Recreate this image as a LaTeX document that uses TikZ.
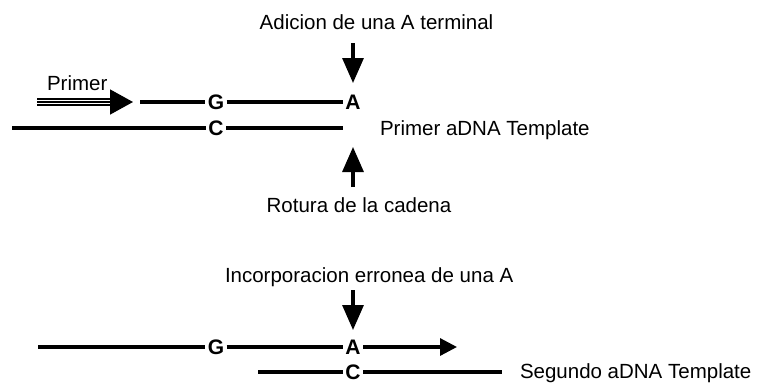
\documentclass[tikz,border=0pt]{standalone}
\usepackage{fontspec}
\setmainfont{Liberation Sans}
\usetikzlibrary{arrows.meta}
\begin{document}
\begin{tikzpicture}[x=1pt,y=-1pt,
  lbl/.style={inner sep=0pt, outer sep=0pt, font=\fontsize{20.5}{24}\selectfont},
  nuc/.style={inner xsep=2.5pt, inner ysep=0pt, outer sep=0pt, font=\fontsize{21}{24}\selectfont\bfseries},
  strand/.style={line width=3.2pt},
  vert/.style={line width=3.2pt, -{Triangle[length=25pt,width=21pt]}},
  smallarr/.style={line width=3.2pt, -{Triangle[length=17pt,width=17pt]}}
]
\useasboundingbox (0,0) rectangle (757,383);
% ---------- top section ----------
\node[lbl, anchor=base] (adic) at (376.5,29.5) {Adicion de una A terminal};
\node[lbl, anchor=base west] (prl) at (47,90) {Primer};
\node[nuc] (G1) at (216,102) {G};
\node[nuc] (A1) at (353,102) {A};
\node[nuc] (C1) at (216,128) {C};
\node[lbl, anchor=base west] (t1) at (380,135.5) {Primer aDNA Template};
\node[lbl, anchor=base] (rot) at (359,212.5) {Rotura de la cadena};
\coordinate (pS) at (37,102);
\coordinate (pE) at (133,102);
\coordinate (t1s) at (140,102);
\coordinate (b1s) at (12,128);
\coordinate (b1e) at (343,128);
\coordinate (d1s) at (353,43);
\coordinate (d1e) at (353,83);
\coordinate (u1s) at (353,187);
\coordinate (u1e) at (353,147);
\draw[line width=1.5pt, double distance=4.5pt, shorten >=22pt] (pS) -- (pE);
\draw[line width=1.5pt, -{Triangle[length=23pt,width=25pt]}] (pS) -- (pE);
\draw[strand] (t1s) -- (G1);
\draw[strand] (G1) -- (A1);
\draw[strand] (b1s) -- (C1);
\draw[strand] (C1) -- (b1e);
\draw[vert] (d1s) -- (d1e);
\draw[vert] (u1s) -- (u1e);
% ---------- bottom section ----------
\node[lbl, anchor=base west] (inc) at (225,282) {Incorporacion erronea de una A};
\node[nuc] (G2) at (216,347) {G};
\node[nuc] (A2) at (353,347) {A};
\node[nuc] (C2) at (353,372) {C};
\node[lbl, anchor=base west] (t2) at (520,378) {Segundo aDNA Template};
\coordinate (t2s) at (38,347);
\coordinate (t2e) at (457,347);
\coordinate (b2s) at (258,372);
\coordinate (b2e) at (502,372);
\coordinate (d2s) at (353,290);
\coordinate (d2e) at (353,330);
\draw[strand] (t2s) -- (G2);
\draw[strand] (G2) -- (A2);
\draw[smallarr] (A2) -- (t2e);
\draw[strand] (b2s) -- (C2);
\draw[strand] (C2) -- (b2e);
\draw[vert] (d2s) -- (d2e);
\end{tikzpicture}
\end{document}
